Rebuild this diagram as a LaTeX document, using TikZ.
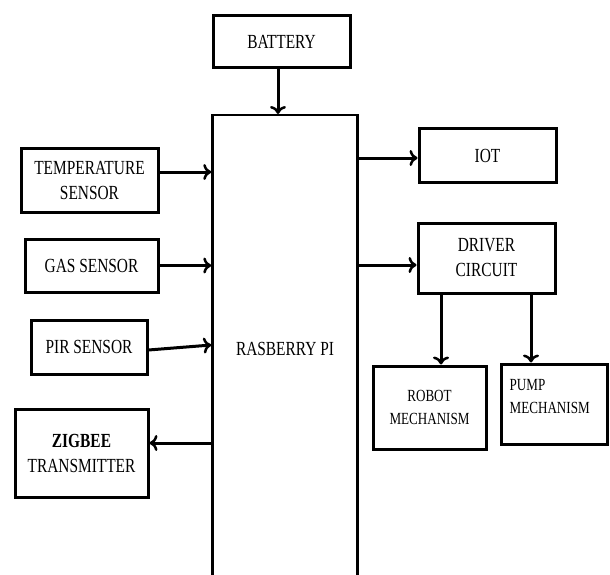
\documentclass[tikz,border=0pt]{standalone}
\usepackage{fontspec}
\setmainfont{Liberation Serif}[FakeStretch=0.77]
\usetikzlibrary{positioning,arrows.meta}

\begin{document}
\begin{tikzpicture}[x=1pt,y=-1pt,
  block/.style={draw,line width=3pt,align=center,inner sep=2pt,font=\fontsize{20}{25}\selectfont},
  small/.style={font=\fontsize{17}{23}\selectfont},
  link/.style={-{To[length=8pt,width=16pt,line width=2.5pt]},line width=3pt}]
\useasboundingbox (0,0) rectangle (610,575);
\clip (0,0) rectangle (610,575);
% main board
\node[draw,line width=2.5pt,minimum width=145,minimum height=475,anchor=north] (pi) at (285,114) {};
\node[font=\fontsize{20}{25}\selectfont] (pilabel) at (285,349) {RASBERRY PI};
\node[block,minimum width=137,minimum height=52] (battery) at (281.5,42) {BATTERY};
% inputs
\node[block,minimum width=137,minimum height=64] (temp) at (89.5,180) {TEMPERATURE\\SENSOR};
\node[block,minimum width=133,minimum height=53] (gas) at (91.5,265.5) {GAS SENSOR};
\node[block,minimum width=116,minimum height=54] (pir) at (89,347) {PIR SENSOR};
\node[block,minimum width=133,minimum height=88] (zigbee) at (81.5,453) {{\bfseries ZIGBEE}\\TRANSMITTER};
% outputs
\node[block,minimum width=137,minimum height=53] (iot) at (487.5,155.5) {IOT};
\node[block,minimum width=137,minimum height=70] (driver) at (486.5,258) {DRIVER\\CIRCUIT};
\node[block,small,minimum width=113,minimum height=83,text depth=-8pt] (robot) at (429.5,407.5) {ROBOT\\MECHANISM};
\node[block,minimum width=106,minimum height=80] (pump) at (554,404) {};
\node[small,align=left,anchor=north west,inner sep=0pt] (pumplabel) at ([xshift=10pt,yshift=-17pt]pump.north west) {PUMP\\MECHANISM};
% connections
\draw[link] (battery.south -| 278,0) -- (pi.north -| 278,0);
\draw[link] (temp.east |- 0,172) -- (pi.west |- 0,172);
\draw[link] (gas.east) -- (gas.east -| pi.west);
\draw[link] (pir.east |- 0,350) -- (pi.west |- 0,345);
\draw[link] (pi.west |- 0,443) -- (zigbee.east |- 0,443);
\draw[link] (pi.east |- 0,158) -- (iot.west |- 0,158);
\draw[link] (pi.east |- 0,265) -- (driver.west |- 0,265);
\draw[link] (driver.south -| 441,0) -- (robot.north -| 441,0);
\draw[link] (driver.south -| 531,0) -- (pump.north -| 531,0);
\end{tikzpicture}
\end{document}
